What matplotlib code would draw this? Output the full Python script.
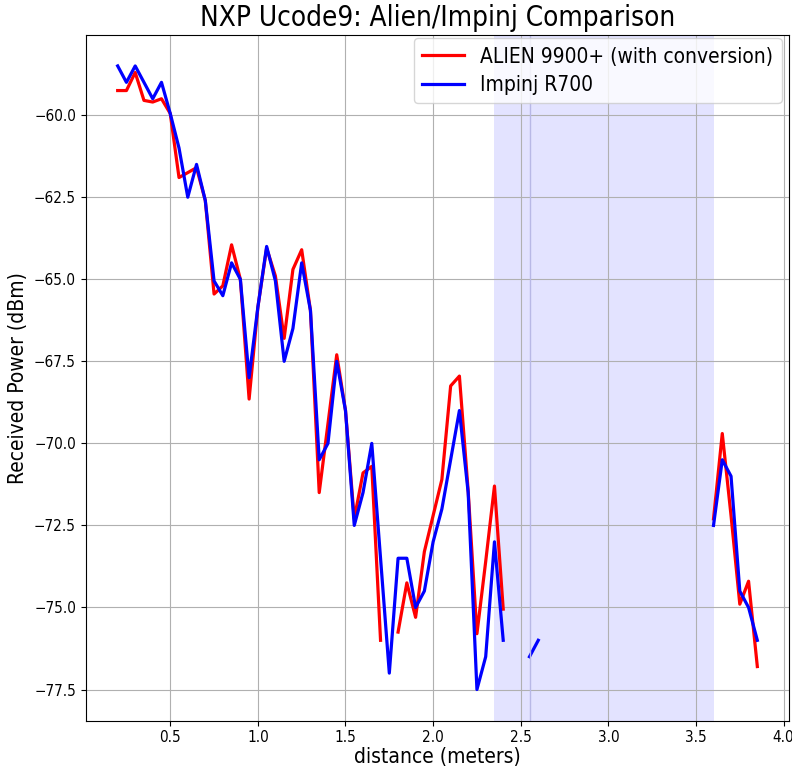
import numpy as np
import matplotlib
matplotlib.use('Agg')
import matplotlib.pyplot as plt

nan = np.nan

# distance (m) and received power (dBm)
distance = [0.20, 0.25, 0.30, 0.35, 0.40, 0.45, 0.50, 0.55, 0.60, 0.65,
            0.70, 0.75, 0.80, 0.85, 0.90, 0.95, 1.00, 1.05, 1.10, 1.15,
            1.20, 1.25, 1.30, 1.35, 1.40, 1.45, 1.50, 1.55, 1.60, 1.65,
            1.70, 1.75, 1.80, 1.85, 1.90, 1.95, 2.00, 2.05, 2.10, 2.15,
            2.20, 2.25, 2.30, 2.35, 2.40, 2.45, 2.50, 2.55, 2.60, 3.10,
            3.60, 3.65, 3.70, 3.75, 3.80, 3.85]

alien = [-59.25, -59.25, -58.7, -59.55, -59.6, -59.5, -59.95, -61.9, -61.75, -61.6,
         -62.6, -65.45, -65.2, -63.95, -65.0, -68.65, -65.85, -64.05, -64.9, -66.8,
         -64.7, -64.1, -65.95, -71.5, -69.4, -67.3, -69.0, -72.3, -70.9, -70.7,
         -76.0, nan, -75.75, -74.25, -75.3, -73.3, -72.2, -71.1, -68.25, -67.95,
         -71.45, -75.8, -73.6, -71.3, -75.05, nan, nan, nan, nan, nan,
         -72.3, -69.7, -72.2, -74.9, -74.2, -76.8]

impinj = [-58.5, -59.0, -58.5, -59.0, -59.5, -59.0, -59.95, -61.0, -62.5, -61.5,
          -62.6, -65.05, -65.5, -64.5, -65.0, -68.0, -65.85, -64.0, -65.05, -67.5,
          -66.5, -64.5, -65.95, -70.5, -70.0, -67.5, -69.0, -72.5, -71.5, -70.0,
          -73.5, -77.0, -73.5, -73.5, -75.0, -74.5, -73.0, -72.0, -70.5, -69.0,
          -71.5, -77.5, -76.5, -73.0, -76.0, nan, nan, -76.5, -76.0, nan,
          -72.5, -70.5, -71.0, -74.5, -75.0, -76.0]

span_start, span_end = 2.35, 3.6
marker_line = 2.55

plt.rcParams['font.family'] = 'DejaVu Sans'
plt.rcParams['font.stretch'] = 'condensed'

fig = plt.figure(figsize=(7.92, 7.69), dpi=100)
ax = fig.add_axes([0.1082, 0.0628, 0.8884, 0.892])

ax.plot(distance, alien, 'r', lw=2.3, label='ALIEN 9900+ (with conversion)')
ax.plot(distance, impinj, 'b', lw=2.3, label='Impinj R700')
ax.axvspan(span_start, span_end, color='b', alpha=0.11, lw=0)
ax.axvline(marker_line, color=(0.72, 0.72, 0.9), lw=1)

ax.set_title('NXP Ucode9: Alien/Impinj Comparison', fontsize=20)
ax.set_xlabel('distance (meters)', fontsize=15, labelpad=1)
ax.set_ylabel('Received Power (dBm)', fontsize=15)
ax.tick_params(labelsize=11)
ax.grid()
ax.legend(loc='upper right', fontsize=15, borderaxespad=0,
          bbox_to_anchor=(0.989, 0.995), labelspacing=0.4)

fig.savefig('out.png', dpi=100)
